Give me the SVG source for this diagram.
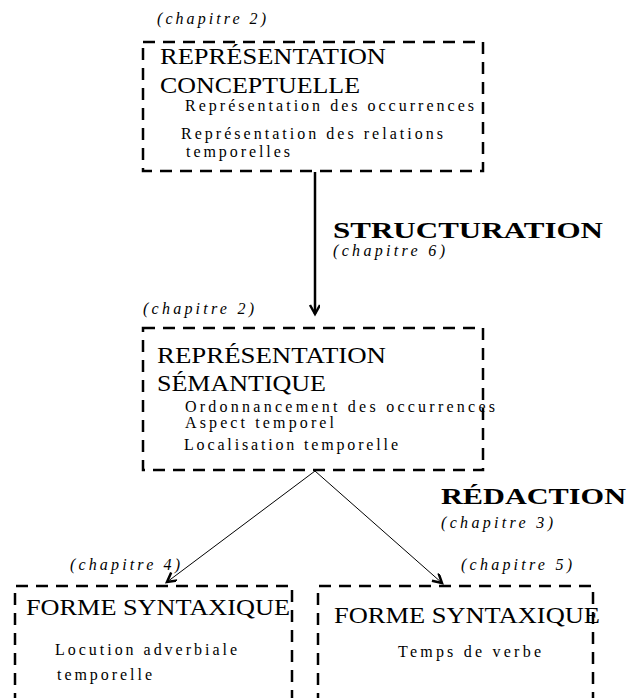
<svg xmlns="http://www.w3.org/2000/svg" width="630" height="698" viewBox="0 0 630 698">
<style>
text{font-family:"Liberation Serif","DejaVu Serif",serif;fill:#000}
.it{font-style:italic;font-size:16px}
.big{font-size:23px}
.sm{font-size:16px}
.bold{font-weight:bold;font-size:23px}
.box{fill:none;stroke:#000;stroke-width:2.5;stroke-dasharray:12 8}
.conn{fill:none;stroke:#000}
</style>
<defs>
<marker id="ah" markerWidth="14" markerHeight="14" refX="10" refY="5" orient="auto" markerUnits="userSpaceOnUse">
<path d="M1,0 L10,5 L1,10" fill="none" stroke="#000" stroke-width="2.5"/>
</marker>
</defs>
<rect width="630" height="698" fill="#fff"/>
<g id="conceptuelle">
<text class="it" x="157" y="24" textLength="109" lengthAdjust="spacing">(chapitre 2)</text>
<rect class="box" x="143" y="42" width="340" height="129"/>
<text class="big" x="160" y="64" textLength="226" lengthAdjust="spacingAndGlyphs">REPRÉSENTATION</text>
<text class="big" x="160" y="93" textLength="200" lengthAdjust="spacingAndGlyphs">CONCEPTUELLE</text>
<text class="sm" x="185" y="111" textLength="289" lengthAdjust="spacing">Représentation des occurrences</text>
<text class="sm" x="181" y="139" textLength="262" lengthAdjust="spacing">Représentation des relations</text>
<text class="sm" x="186" y="157" textLength="104" lengthAdjust="spacing">temporelles</text>
</g>
<g id="semantique">
<text class="it" x="143" y="314" textLength="111" lengthAdjust="spacing">(chapitre 2)</text>
<rect class="box" x="143" y="328" width="340" height="142"/>
<text class="big" x="157" y="363" textLength="229" lengthAdjust="spacingAndGlyphs">REPRÉSENTATION</text>
<text class="big" x="157" y="391" textLength="169" lengthAdjust="spacingAndGlyphs">SÉMANTIQUE</text>
<text class="sm" x="185" y="412" textLength="310" lengthAdjust="spacing">Ordonnancement des occurrences</text>
<text class="sm" x="185" y="428" textLength="149" lengthAdjust="spacing">Aspect temporel</text>
<text class="sm" x="184" y="450" textLength="214" lengthAdjust="spacing">Localisation temporelle</text>
</g>
<g id="forme4">
<text class="it" x="70" y="570" textLength="110" lengthAdjust="spacing">(chapitre 4)</text>
<path class="box" d="M15,705 V586 H292 V705"/>
<text class="big" x="26" y="615" textLength="264" lengthAdjust="spacingAndGlyphs">FORME SYNTAXIQUE</text>
<text class="sm" x="55" y="655" textLength="182" lengthAdjust="spacing">Locution adverbiale</text>
<text class="sm" x="57" y="680" textLength="95" lengthAdjust="spacing">temporelle</text>
</g>
<g id="forme5">
<text class="it" x="461" y="570" textLength="111" lengthAdjust="spacing">(chapitre 5)</text>
<path class="box" d="M318,705 V586 H593 V705"/>
<text class="big" x="334" y="623" textLength="266" lengthAdjust="spacingAndGlyphs">FORME SYNTAXIQUE</text>
<text class="sm" x="398" y="657" textLength="143" lengthAdjust="spacing">Temps de verbe</text>
</g>
<g id="connectors">
<line class="conn" x1="315" y1="172" x2="315" y2="314" stroke-width="2.5" marker-end="url(#ah)"/>
<text class="bold" x="333" y="238" textLength="270" lengthAdjust="spacingAndGlyphs">STRUCTURATION</text>
<text class="it" x="333" y="256" textLength="112" lengthAdjust="spacing">(chapitre 6)</text>
<line class="conn" x1="315" y1="471" x2="167" y2="582" stroke-width="1" marker-end="url(#ah)"/>
<line class="conn" x1="315" y1="471" x2="442" y2="583" stroke-width="1" marker-end="url(#ah)"/>
<text class="bold" x="441" y="504" textLength="185" lengthAdjust="spacingAndGlyphs">RÉDACTION</text>
<text class="it" x="441" y="528" textLength="112" lengthAdjust="spacing">(chapitre 3)</text>
</g>
</svg>
